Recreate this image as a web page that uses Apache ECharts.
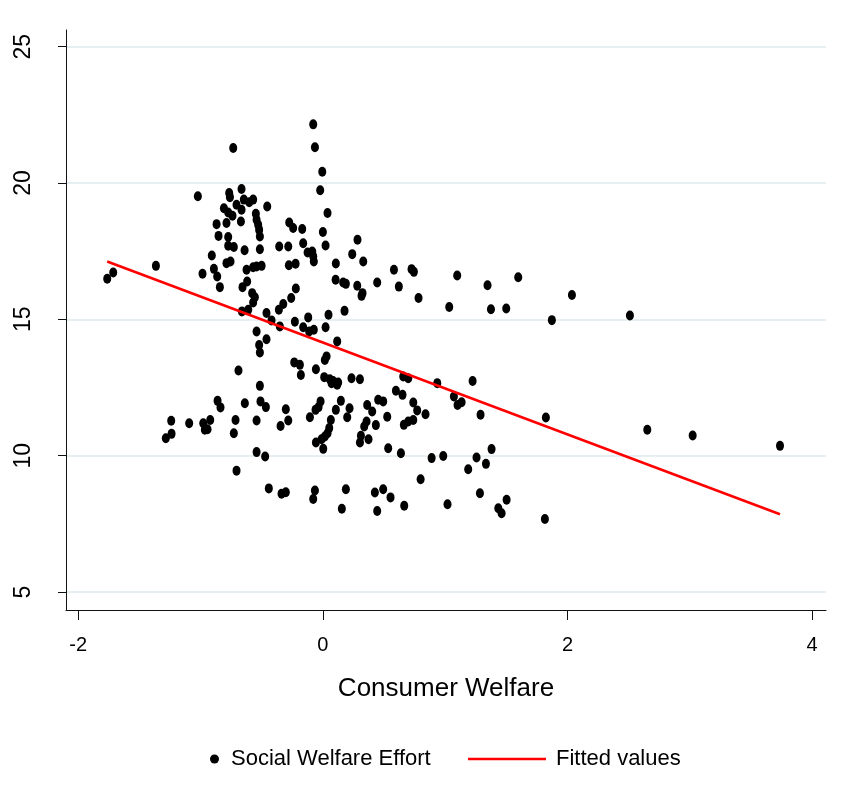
<!DOCTYPE html>
<html>
<head>
<meta charset="utf-8">
<script src="https://cdn.jsdelivr.net/npm/echarts@6/dist/echarts.min.js"></script>
<style>
html,body{margin:0;padding:0;background:#fff;}
#chart{width:849px;height:791px;}
</style>
</head>
<body>
<div id="chart"></div>
<script>
// Social Welfare Effort vs Consumer Welfare (x, y)
const welfarePoints = [
[-0.733,21.28],[-1.022,19.51],[-0.766,19.63],[-0.760,19.48],[-0.665,19.78],[-0.706,19.20],[-0.646,19.39],[-0.570,19.39],[-0.602,19.29],[-0.455,19.14],[-0.809,19.07],[-0.774,18.92],[-0.739,18.80],[-0.665,19.02],[-0.548,18.87],[-0.542,18.65],[-0.529,18.47],[-0.521,18.28],[-0.515,18.04],[-0.869,18.49],[-0.788,18.53],[-0.670,18.59],[-0.853,18.06],[-0.774,18.02],[-0.774,17.70],[-0.728,17.65],[-0.640,17.53],[-0.515,17.57],[-0.908,17.34],[-0.788,17.06],[-0.755,17.12],[-0.624,16.82],[-0.570,16.91],[-0.542,16.94],[-0.501,16.96],[-1.365,16.96],[-0.984,16.67],[-0.891,16.85],[-0.864,16.57],[-0.842,16.18],[-0.619,16.39],[-0.657,16.18],[-0.578,15.96],[-0.556,15.81],[-0.570,15.62],[-0.610,15.35],[-0.662,15.29],[-0.461,15.23],[-1.714,16.72],[-1.763,16.49],
[-0.079,22.15],[-0.065,21.31],[-0.005,20.41],[-0.022,19.73],[0.038,18.90],[-0.275,18.55],[-0.243,18.35],[-0.169,18.31],[0.000,18.20],[0.283,17.92],[-0.357,17.67],[-0.283,17.67],[-0.161,17.79],[0.022,17.71],[-0.125,17.45],[-0.087,17.49],[-0.074,17.12],[-0.079,17.31],[0.240,17.39],[0.330,17.12],[0.106,17.05],[-0.278,16.98],[-0.223,17.04],[0.104,16.45],[0.166,16.35],[0.188,16.30],[0.281,16.23],[0.444,16.35],[0.581,16.82],[0.725,16.84],[0.744,16.74],[0.621,16.20],[0.324,15.96],[0.316,15.86],[0.782,15.78],[-0.221,16.13],[-0.259,15.78],[-0.324,15.56],[-0.360,15.35],[-0.420,14.96],[-0.229,14.91],[-0.120,15.07],[0.046,15.17],[0.177,15.31],
[-0.352,14.74],[-0.161,14.71],[-0.112,14.55],[-0.074,14.62],[0.022,14.71],[0.117,14.19],[0.030,13.64],[0.016,13.51],[-0.234,13.42],[-0.188,13.33],[-0.180,12.96],[-0.057,13.17],[0.011,12.88],[0.057,12.80],[0.084,12.74],[0.125,12.68],[0.071,12.66],[0.117,12.60],[0.234,12.84],[0.303,12.80],[0.657,12.90],[0.698,12.84],[0.935,12.66],[0.597,12.38],[0.651,12.23],[0.739,11.95],[0.771,11.66],[0.839,11.52],[-0.303,11.70],[-0.283,11.29],[-0.346,11.09],[0.147,12.01],[-0.019,11.99],[-0.035,11.78],[-0.060,11.68],[-0.106,11.41],[0.065,11.31],[0.052,11.01],[0.038,10.82],[0.016,10.70],[-0.011,10.60],[-0.057,10.48],[0.003,10.25],[0.106,11.68],[0.218,11.74],[0.199,11.41],[0.362,11.86],[0.403,11.62],[0.357,11.25],[0.338,11.07],[0.311,10.73],[0.303,10.48],[0.373,10.60],[0.433,11.12],[0.452,12.05],[0.493,11.99],[0.526,11.43],[0.662,11.13],[0.698,11.25],[0.739,11.31],[0.534,10.27],[0.638,10.09],[0.889,9.91],[0.799,9.135],[-0.338,8.60],[-0.303,8.66],[-0.065,8.72],[-0.079,8.41],[0.188,8.77],[0.155,8.05],[0.425,8.65],[0.493,8.77],[0.553,8.47],[0.444,7.97],[0.665,8.16],
[-0.542,14.55],[-0.461,14.27],[-0.521,14.06],[-0.515,13.78],[-0.690,13.12],[-0.515,12.56],[-0.510,11.99],[-0.466,11.78],[-0.861,12.01],[-0.837,11.77],[-0.638,11.92],[-0.714,11.31],[-0.542,11.29],[-0.921,11.31],[-0.978,11.19],[-0.965,10.95],[-0.943,10.97],[-1.093,11.19],[-1.240,11.28],[-1.237,10.80],[-1.284,10.64],[-0.728,10.82],[-0.542,10.13],[-0.472,9.97],[-0.706,9.45],[-0.442,8.80],
[1.098,16.61],[1.346,16.25],[1.597,16.54],[2.036,15.89],[1.033,15.45],[1.374,15.37],[1.499,15.40],[1.872,14.97],[1.224,12.74],[1.071,12.17],[1.134,11.96],[1.101,11.86],[1.289,11.50],[1.823,11.40],[0.984,9.99],[1.256,9.93],[1.379,10.24],[1.333,9.70],[1.188,9.50],[1.284,8.62],[1.019,8.22],[1.434,8.07],[1.461,7.89],[1.502,8.38],[1.815,7.68],
[2.510,15.14],[2.652,10.95],[3.023,10.74],[3.737,10.36]
];
// Fitted values (linear fit) endpoints
const fitX = [-1.763, 3.737];
const fitY = [17.12, 7.85];
// Tick values
const xTicks = [-2, 0, 2, 4];
const yTicks = [5, 10, 15, 20, 25];

const sans = '"Liberation Sans", Arial, Helvetica, sans-serif';
const chart = echarts.init(document.getElementById('chart'), null, {renderer: 'canvas'});
chart.setOption({
  animation: false,
  backgroundColor: '#ffffff',
  grid: {left: 66, right: 23, top: 30, bottom: 181, containLabel: false},
  xAxis: {
    type: 'value', min: -2.1, max: 4.113,
    name: 'Consumer Welfare', nameLocation: 'middle', nameGap: 66,
    nameTextStyle: {fontFamily: sans, fontSize: 26, color: '#000'},
    axisLine: {show: true, onZero: false, lineStyle: {color: '#111', width: 1}},
    axisTick: {show: true, customValues: xTicks, length: 10, lineStyle: {color: '#111'}},
    axisLabel: {customValues: xTicks, fontFamily: sans, fontSize: 20, color: '#000', margin: 25},
    splitLine: {show: false}
  },
  yAxis: {
    type: 'value', min: 4.34, max: 25.61,
    axisLine: {show: true, onZero: false, lineStyle: {color: '#111', width: 1}},
    axisTick: {show: true, customValues: yTicks, length: 8, lineStyle: {color: '#111'}},
    axisLabel: {customValues: yTicks, rotate: 90, fontFamily: sans, fontSize: 23, color: '#000', margin: 31},
    splitLine: {show: true, lineStyle: {color: '#e6eff1', width: 2}}
  },
  legend: [
    {data: [{name: 'Social Welfare Effort', icon: 'circle'}], left: 205, top: 743, itemWidth: 9, itemHeight: 9,
     textStyle: {fontFamily: sans, fontSize: 22, color: '#000', padding: [0, 0, 0, 7]}},
    {data: [{name: 'Fitted values', icon: 'rect'}], left: 463, top: 743, itemWidth: 78, itemHeight: 2.5,
     textStyle: {fontFamily: sans, fontSize: 22, color: '#000', padding: [0, 0, 0, 5]}}
  ],
  series: [
    {
      name: 'Social Welfare Effort', type: 'scatter', data: welfarePoints,
      symbol: 'circle', symbolSize: [8, 10],
      itemStyle: {color: '#000', opacity: 1}, z: 2
    },
    {
      name: 'Fitted values', type: 'line',
      data: fitX.map((x, i) => [x, fitY[i]]),
      symbol: 'none', lineStyle: {color: '#ff0000', width: 2.5},
      itemStyle: {color: '#ff0000'}, z: 3
    }
  ]
});
</script>
</body>
</html>
